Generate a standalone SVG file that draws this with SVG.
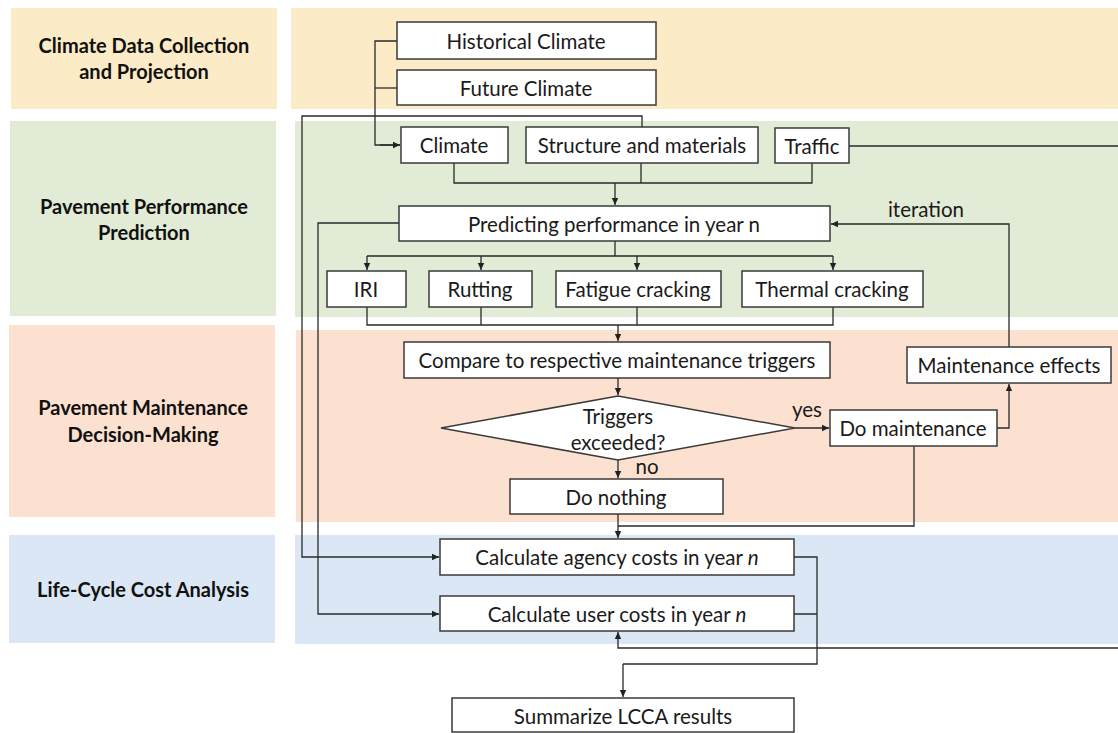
<svg xmlns="http://www.w3.org/2000/svg" width="1118" height="733" viewBox="0 0 1118 733">
<defs>
<marker id="ah" markerWidth="8" markerHeight="8" refX="7" refY="4" orient="auto" markerUnits="userSpaceOnUse">
<path d="M0,0.8 L7,4 L0,7.2 Z" fill="#222"/>
</marker>
<style>
.band{stroke:none}
.lbl{font-family:Lato,"Liberation Sans",sans-serif;font-weight:bold;font-size:20px;fill:#111;text-anchor:middle}
.box{fill:#fff;stroke:#3a3a3a;stroke-width:1.5}
.t{font-family:Lato,"Liberation Sans",sans-serif;font-size:20.5px;fill:#1a1a1a;text-anchor:middle;dominant-baseline:central}
.c{fill:none;stroke:#2a2a2a;stroke-width:1.3}
.a{marker-end:url(#ah)}
</style>
</defs>
<rect width="1118" height="733" fill="#fff"/>
<g id="bands">
<rect class="band" x="11" y="8" width="266" height="101" fill="#FCEBC7"/>
<rect class="band" x="291" y="8" width="827" height="101" fill="#FCEBC7"/>
<rect class="band" x="10" y="121" width="266" height="195" fill="#E2EBD5"/>
<rect class="band" x="295" y="121" width="823" height="196" fill="#E2EBD5"/>
<rect class="band" x="9" y="325" width="266" height="192" fill="#FCE1D1"/>
<rect class="band" x="296" y="330" width="822" height="192" fill="#FCE1D1"/>
<rect class="band" x="9" y="535" width="266" height="108" fill="#DBE7F4"/>
<rect class="band" x="295" y="535" width="823" height="109" fill="#DBE7F4"/>
</g>
<g id="lane-labels">
<text class="lbl" x="144" y="53">Climate Data Collection</text>
<text class="lbl" x="144" y="79">and Projection</text>
<text class="lbl" x="144" y="214">Pavement Performance</text>
<text class="lbl" x="144" y="240">Prediction</text>
<text class="lbl" x="143" y="415">Pavement Maintenance</text>
<text class="lbl" x="143" y="442">Decision-Making</text>
<text class="lbl" x="143" y="597">Life-Cycle Cost Analysis</text>
</g>
<g id="connectors">
<path class="c" d="M397,41 H375 V145 H400"/>
<path class="c a" d="M380,145 H400"/>
<path class="c" d="M397,88 H375"/>
<path class="c" d="M454,163 V183 H812 V163 M641,163 V183"/>
<path class="c a" d="M615,183 V205"/>
<path class="c a" d="M642,127 V116 H302 V557 H439"/>
<path class="c a" d="M399,223 H318 V614 H439"/>
<path class="c" d="M615,241 V256 M367,256 H833"/>
<path class="c a" d="M367,256 V270"/>
<path class="c a" d="M481,256 V270"/>
<path class="c a" d="M637,256 V270"/>
<path class="c a" d="M833,256 V270"/>
<path class="c" d="M367,307 V325 H833 V307 M481,307 V325 M637,307 V325"/>
<path class="c a" d="M618,325 V341"/>
<path class="c a" d="M618,378 V395"/>
<path class="c a" d="M795,428 H829"/>
<path class="c a" d="M618,460 V478"/>
<path class="c a" d="M997,428 H1009 V384"/>
<path class="c a" d="M1009,347 V224 H831"/>
<path class="c a" d="M618,514 V538"/>
<path class="c" d="M914,446 V526 H618"/>
<path class="c" d="M794,557 H817 V664 H623 M794,614 H817"/>
<path class="c a" d="M623,664 V697"/>
<path class="c a" d="M849,146 H1119 V648 H618 V632"/>
</g>
<g id="n-hist"><rect class="box" x="397" y="22" width="259" height="37"/><text class="t" x="526" y="41">Historical Climate</text></g>
<g id="n-future"><rect class="box" x="397" y="70" width="259" height="35"/><text class="t" x="526" y="88">Future Climate</text></g>
<g id="n-climate"><rect class="box" x="401" y="127" width="107" height="36"/><text class="t" x="454" y="145">Climate</text></g>
<g id="n-struct"><rect class="box" x="526" y="127" width="232" height="36"/><text class="t" x="642" y="145">Structure and materials</text></g>
<g id="n-traffic"><rect class="box" x="775" y="128" width="74" height="35"/><text class="t" x="812" y="146">Traffic</text></g>
<g id="n-predict"><rect class="box" x="399" y="206" width="431" height="35"/><text class="t" x="614" y="224">Predicting performance in year n</text></g>
<g id="l-iter"><text class="t" x="926" y="209">iteration</text></g>
<g id="n-iri"><rect class="box" x="327" y="271" width="79" height="36"/><text class="t" x="366" y="289">IRI</text></g>
<g id="n-rut"><rect class="box" x="429" y="271" width="103" height="36"/><text class="t" x="480" y="289">Rutting</text></g>
<g id="n-fatigue"><rect class="box" x="556" y="271" width="165" height="36"/><text class="t" x="638" y="289">Fatigue cracking</text></g>
<g id="n-thermal"><rect class="box" x="742" y="271" width="181" height="36"/><text class="t" x="832" y="289">Thermal cracking</text></g>
<g id="n-compare"><rect class="box" x="404" y="342" width="426" height="36"/><text class="t" x="617" y="360">Compare to respective maintenance triggers</text></g>
<g id="n-triggers"><polygon class="box" points="618,396 795,428 618,460 441,428"/><text class="t" x="618" y="416">Triggers</text><text class="t" x="618" y="442">exceeded?</text></g>
<g id="l-yes"><text class="t" x="807" y="409">yes</text></g>
<g id="l-no"><text class="t" x="647" y="466">no</text></g>
<g id="n-domaint"><rect class="box" x="830" y="410" width="167" height="36"/><text class="t" x="913" y="428">Do maintenance</text></g>
<g id="n-effects"><rect class="box" x="907" y="347" width="204" height="36"/><text class="t" x="1009" y="365">Maintenance effects</text></g>
<g id="n-nothing"><rect class="box" x="510" y="479" width="213" height="35"/><text class="t" x="616" y="497">Do nothing</text></g>
<g id="n-agency"><rect class="box" x="440" y="539" width="354" height="36"/><text class="t" x="617" y="557">Calculate agency costs in year <tspan font-style="italic">n</tspan></text></g>
<g id="n-user"><rect class="box" x="440" y="596" width="354" height="35"/><text class="t" x="617" y="614">Calculate user costs in year <tspan font-style="italic">n</tspan></text></g>
<g id="n-summary"><rect class="box" x="452" y="698" width="342" height="34"/><text class="t" x="623" y="716">Summarize LCCA results</text></g>
</svg>
